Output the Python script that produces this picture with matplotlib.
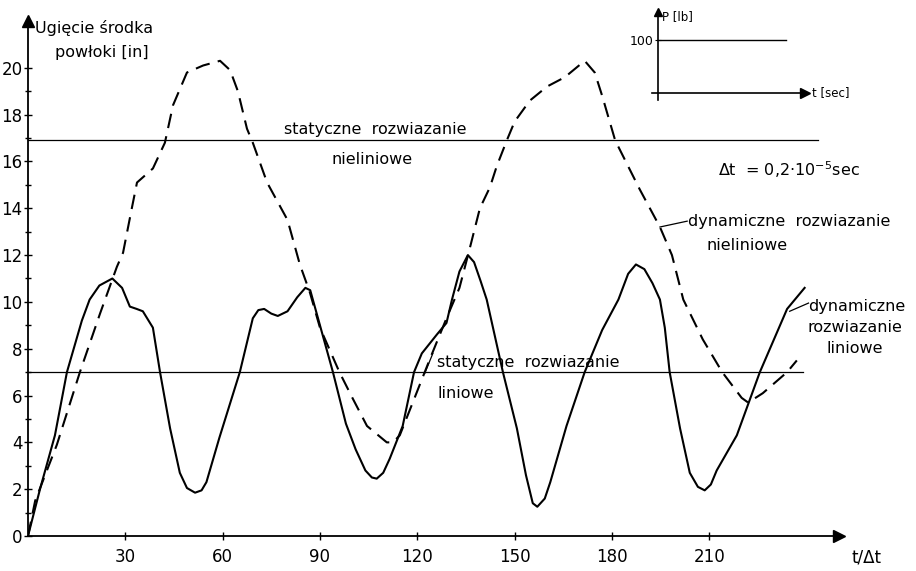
import matplotlib
matplotlib.use("Agg")
from matplotlib import pyplot as plt

# dynamic linear solution (solid): t/dt, deflection [in]
lin_t = [0, 3.7, 8.3, 12, 16.6, 19, 22, 26, 29, 31.4, 33.5, 35.4, 38.5, 40.7, 43.8,
         46.8, 49, 51.5, 53.5, 55, 59, 65.3, 69.3, 71, 72.8, 75, 77, 80, 83, 85.5,
         87, 90, 94, 98, 101, 104, 106, 107.5, 109.5, 111.5, 115.5, 119, 121.4,
         126, 129, 130.7, 133, 135.6, 137.5, 139.5, 141.4, 146.4, 150.7, 153.5,
         155.6, 157, 159.3, 161, 166, 171.6, 177, 182, 185, 187.4, 190, 192.5,
         194.8, 196.3, 197.8, 201, 204, 206.5, 208.6, 210.5, 212.3, 218.5, 225.6,
         234, 239.4]
lin_y = [0, 2.0, 4.3, 7.0, 9.2, 10.1, 10.7, 11.0, 10.6, 9.8, 9.7, 9.6, 8.9, 7.0, 4.6,
         2.7, 2.05, 1.85, 1.95, 2.3, 4.2, 7.0, 9.3, 9.65, 9.7, 9.5, 9.4, 9.6, 10.2, 10.6,
         10.5, 9.0, 7.0, 4.8, 3.7, 2.8, 2.5, 2.45, 2.7, 3.3, 4.7, 7.0, 7.8,
         8.6, 9.1, 10.1, 11.3, 12.0, 11.7, 10.9, 10.1, 7.0, 4.6, 2.6,
         1.4, 1.25, 1.6, 2.3, 4.7, 7.0, 8.8, 10.1, 11.2, 11.6, 11.4, 10.8,
         10.1, 8.9, 7.0, 4.6, 2.7, 2.1, 1.95, 2.2, 2.8, 4.3, 7.0,
         9.7, 10.6]

# dynamic nonlinear solution (dashed)
nl_t = [0, 2.2, 8.9, 16, 22.2, 27.4, 29.3, 32, 33.6, 38.5, 42.2, 44.7, 49, 54, 59.2,
        62.3, 64.7, 67.5, 69.3, 73.7, 80, 83.8, 86.9, 90, 96, 100, 104.5, 110.6,
        112.5, 114.6, 118.6, 124, 129, 133, 136.2, 139.3, 142.4, 144.5, 147.6, 150,
        154.7, 160, 165.5, 171.6, 174.7, 177, 181, 188.6, 194.8, 198.5, 202, 208,
        214, 220, 222, 226.5, 234, 237]
nl_y = [0, 1.5, 3.9, 7.0, 9.5, 11.5, 12.1, 14.0, 15.1, 15.7, 16.8, 18.4, 19.8, 20.1, 20.3,
        19.9, 19.0, 17.4, 16.8, 15.1, 13.5, 11.6, 10.4, 8.9, 7.0, 5.9, 4.7, 4.0,
        4.0, 4.3, 5.7, 7.6, 9.3, 10.6, 12.3, 14.0, 14.9, 15.8, 16.9, 17.7,
        18.6, 19.2, 19.6, 20.3, 19.8, 18.8, 16.9, 14.8, 13.2, 12.0, 10.1, 8.4,
        7.0, 5.9, 5.7, 6.1, 7.0, 7.5]

# static solutions
static_nl = 16.9
static_lin = 7.0

# load history in the inset
load_t = [0, 1.0]
load_p = [100, 100]

x_ticks = [30, 60, 90, 120, 150, 180, 210]
y_ticks = list(range(0, 21, 2))

plt.rcParams['font.family'] = ['DejaVu Sans']
fig = plt.figure(figsize=(9.16, 5.71), dpi=100)

ax = fig.add_axes([28 / 916, 35 / 571, 811 / 916, 515 / 571])
ax.set_xlim(0, 250)
ax.set_ylim(0, 22)

ax.plot(lin_t, lin_y, 'k-', lw=1.5)
ax.plot(nl_t, nl_y, color='k', lw=1.5, linestyle=(0, (7, 4)))
ax.plot([0, 243.5], [static_nl, static_nl], 'k-', lw=0.9)
ax.plot([0, 238.8], [static_lin, static_lin], 'k-', lw=0.9)

for side in ('top', 'right'):
    ax.spines[side].set_visible(False)
for side in ('left', 'bottom'):
    ax.spines[side].set_linewidth(1.3)
ax.plot(1, 0, '>k', ms=9, transform=ax.get_yaxis_transform(), clip_on=False)
ax.plot(0, 1, '^k', ms=8, transform=ax.get_xaxis_transform(), clip_on=False)

ax.set_xticks(x_ticks)
ax.set_yticks(y_ticks)
ax.set_yticks(range(1, 21, 2), minor=True)
ax.tick_params(axis='both', direction='inout', length=6, width=1, labelsize=12)
ax.tick_params(axis='y', which='minor', direction='inout', length=4, width=1)
ax.tick_params(axis='x', pad=6)
ax.tick_params(axis='y', pad=1)

# labels
fs = 11.5
fig.text(35 / 916, 1 - 28 / 571, 'Ugięcie środka', fontsize=fs, va='center')
fig.text(55 / 916, 1 - 52 / 571, 'powłoki [in]', fontsize=fs, va='center')
fig.text(852 / 916, 1 - 557 / 571, 't/Δt', fontsize=12, va='center')

ax.text(107, 17.05, 'statyczne  rozwiazanie', fontsize=fs, ha='center', va='bottom')
ax.text(106, 16.1, 'nieliniowe', fontsize=fs, ha='center', va='center')
ax.text(212.6, 15.65, 'Δt  = 0,2·10$^{-5}$sec', fontsize=fs, ha='left', va='center')

ax.plot([194.8, 203.2], [13.2, 13.45], 'k-', lw=0.9)
ax.text(203.4, 13.45, 'dynamiczne  rozwiazanie', fontsize=fs, ha='left', va='center')
ax.text(221.6, 12.4, 'nieliniowe', fontsize=fs, ha='center', va='center')

ax.plot([122.3, 124.8], [6.95, 7.8], 'k-', lw=0.9)
ax.text(126.0, 7.4, 'statyczne  rozwiazanie', fontsize=fs, ha='left', va='center')
ax.text(126.3, 6.1, 'liniowe', fontsize=fs, ha='left', va='center')

ax.plot([234.8, 240.6], [9.6, 9.95], 'k-', lw=0.9, clip_on=False)
ax.text(240.4, 9.8, 'dynamiczne', fontsize=fs, ha='left', va='center')
ax.text(255, 8.9, 'rozwiazanie', fontsize=fs, ha='center', va='center')
ax.text(255, 8.0, 'liniowe', fontsize=fs, ha='center', va='center')

# inset: step load P(t)
ins = fig.add_axes([652 / 916, 1 - 100 / 571, 153 / 916, 88 / 571])
ins.set_xlim(-0.047, 1.148)
ins.set_ylim(-13.2, 152.8)
ins.patch.set_alpha(0)
ins.plot(load_t, load_p, 'k-', lw=1.0)
for side in ('top', 'right'):
    ins.spines[side].set_visible(False)
ins.spines['left'].set_position(('data', 0))
ins.spines['bottom'].set_position(('data', 0))
ins.spines['left'].set_linewidth(1.2)
ins.spines['bottom'].set_linewidth(1.2)
ins.plot(1, 0, '>k', ms=7, transform=ins.get_yaxis_transform(), clip_on=False)
ins.plot(0, 1, '^k', ms=6, transform=ins.get_xaxis_transform(), clip_on=False)
ins.set_xticks([])
ins.set_yticks([100])
ins.tick_params(axis='y', direction='inout', length=4, labelsize=9, pad=1)
ins.text(0.035, 145, 'P [lb]', fontsize=8.5, ha='left', va='center')
ins.text(1.2, 0, 't [sec]', fontsize=8.5, ha='left', va='center', clip_on=False)

fig.savefig('out.png', dpi=100, facecolor='white')
